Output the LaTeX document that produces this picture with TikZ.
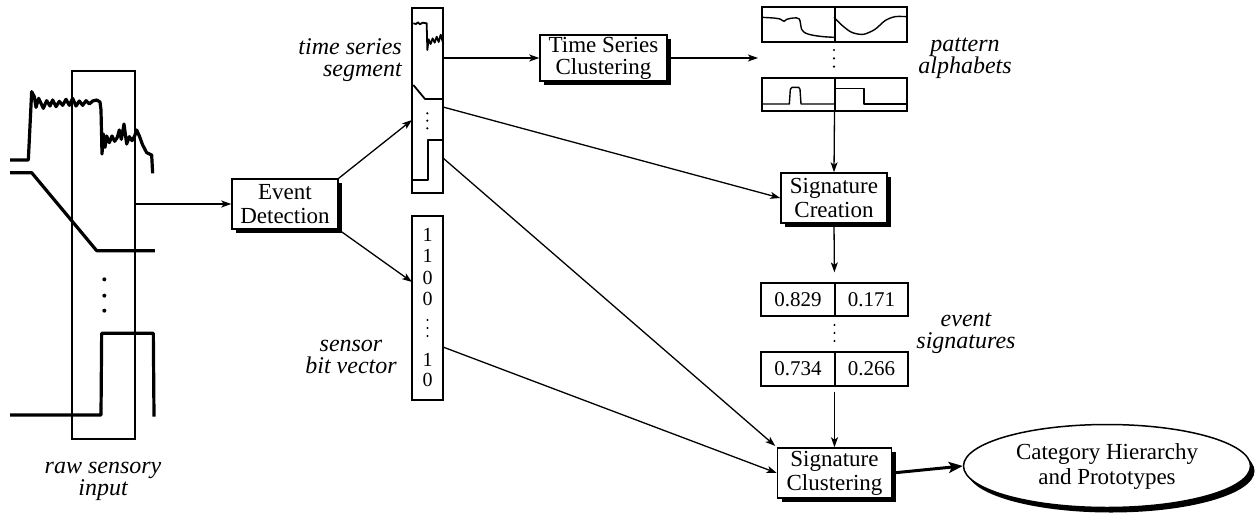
\documentclass[tikz,border=0pt]{standalone}
\usepackage{fontspec}
\setmainfont{Liberation Serif}
\usetikzlibrary{arrows.meta,shapes.geometric,shadows,calc}
\begin{document}
\begin{tikzpicture}[x=1pt,y=-1pt,
  box/.style={draw,line width=1.5pt,fill=white,inner sep=0pt,align=center,
    font=\fontsize{23}{24}\selectfont,
    drop shadow={shadow xshift=4pt,shadow yshift=-4pt,fill=black,opacity=1}},
  frm/.style={draw,line width=1.3pt,inner sep=0pt},
  lbl/.style={font=\fontsize{24}{22}\selectfont\itshape,align=center,inner sep=0pt},
  num/.style={font=\fontsize{21}{21}\selectfont,inner sep=0pt},
  bit/.style={font=\fontsize{20}{20}\selectfont,inner sep=0pt},
  arr/.style={line width=1.3pt,-{Stealth[length=10pt,width=7pt,inset=2.5pt]}},
  sig/.style={line width=3.2pt,line join=round},
  msig/.style={line width=1.8pt,line join=round},
  psig/.style={line width=1.4pt,line join=round},
  dv/.style={line width=2pt}]
\useasboundingbox (0,0) rectangle (1260,527);

% raw sensory input
\node[frm,minimum width=63pt,minimum height=368pt] (frame) at (103.5,255) {};
\begin{scope}[shift={(0,30)},x=0.33333pt,y=-0.33333pt]
  \draw[sig] (30,390) -- (85,390) -- (95,185) -- (103,200) -- (108,232) -- (116,205) -- (124,222) -- (130,235) -- (140,212) -- (150,228) -- (158,210) -- (168,230) -- (178,214) -- (188,226) -- (198,208) -- (208,226) -- (218,205) -- (228,228) -- (238,213) -- (248,226) -- (258,212) -- (268,222) -- (278,213) -- (290,210) -- (300,216) -- (303,240) -- (306,372) -- (310,312) -- (315,352) -- (320,318) -- (328,338) -- (336,318) -- (344,334) -- (352,322) -- (358,300) -- (364,328) -- (372,282) -- (380,342) -- (388,320) -- (396,332) -- (404,318) -- (410,300) -- (418,318) -- (428,345) -- (440,368) -- (455,375) -- (458,430);
  \draw[sig] (30,428) -- (95,428) -- (290,662) -- (465,662);
  \draw[sig] (30,1155) -- (303,1155) -- (305,910) -- (460,910) -- (462,1160);
  \fill (313,748) circle[radius=2pt] (313,797) circle[radius=2pt] (313,842) circle[radius=2pt];
\end{scope}
\node[lbl] (lraw) at (103,481.5) {raw sensory\\input};

% event detection
\node[box,minimum width=106pt,minimum height=50pt] (ed) at (285,204) {Event\\Detection};

% time series segment
\node[frm,minimum width=31pt,minimum height=185pt] (tsbox) at (427.5,100.5) {};
\begin{scope}[shift={(380,0)},x=0.33333pt,y=-0.33333pt]
  \draw[msig] (100,70) -- (108,72) -- (114,67) -- (120,73) -- (128,68) -- (140,70) -- (142,150) -- (146,118) -- (152,132) -- (158,115) -- (164,128) -- (170,110) -- (176,126) -- (182,104) -- (190,132);
  \draw[msig] (100,255) -- (135,297) -- (190,297);
  \draw[msig] (100,540) -- (143,540) -- (143,420) -- (190,420);
  \fill (142,340) circle[radius=1.2pt] (142,362) circle[radius=1.2pt] (142,385) circle[radius=1.2pt];
\end{scope}
\node[lbl,anchor=east,align=right] (lts) at (402,60) {time series\\segment};

% sensor bit vector
\node[frm,minimum width=31pt,minimum height=184pt] (bvbox) at (427.5,308) {};
\node[bit] (b1) at (427.5,235) {1};
\node[bit] (b2) at (427.5,256) {1};
\node[bit] (b3) at (427.5,278) {0};
\node[bit] (b4) at (427.5,299) {0};
\node[bit] (b5) at (427.5,360) {1};
\node[bit] (b6) at (427.5,380) {0};
\fill (427.5,320) circle[radius=1.2pt] (427.5,328) circle[radius=1.2pt] (427.5,336) circle[radius=1.2pt];
\node[lbl] (lbv) at (351,356.5) {sensor\\bit vector};

% time series clustering
\node[box,minimum width=127pt,minimum height=46pt,font=\fontsize{23}{22}\selectfont] (tsc) at (603.5,58) {Time Series\\Clustering};

% pattern alphabets
\node[frm,minimum width=145pt,minimum height=35pt] (pa1) at (834.5,24.5) {};
\node[frm,minimum width=145pt,minimum height=33pt] (pa2) at (834.5,94.5) {};
\draw[dv] (pa1.north) -- (pa1.south);
\draw[dv] (pa2.north) -- (pa2.south);
\begin{scope}[shift={(520,0)},x=0.33333pt,y=-0.33333pt]
  \draw[psig] plot[smooth] coordinates {(725,52) (760,54) (780,57) (792,64) (800,58) (820,54) (838,57) (845,88) (858,100) (880,106) (910,110) (942,112)};
  \draw[psig] plot[smooth] coordinates {(942,52) (965,75) (995,97) (1030,103) (1065,88) (1095,62) (1125,50) (1162,50)};
  \draw[psig] (725,312) -- (808,312) -- (811,268) -- (816,262) -- (836,262) -- (840,268) -- (843,312) -- (942,312);
  \draw[psig] (942,265) -- (1032,265) -- (1032,312) -- (1162,312);
  \fill (942,150) circle[radius=1.2pt] (942,175) circle[radius=1.2pt] (942,200) circle[radius=1.2pt];
\end{scope}
\node[lbl] (lpa) at (965,58) {pattern\\alphabets};

% signature creation
\node[box,minimum width=106pt,minimum height=50pt] (sc) at (834,198) {Signature\\Creation};

% event signatures
\node[frm,minimum width=147pt,minimum height=33pt] (es1) at (834.5,299.5) {};
\node[frm,minimum width=147pt,minimum height=34pt] (es2) at (834.5,369) {};
\draw[dv] (es1.north) -- (es1.south);
\draw[dv] (es2.north) -- (es2.south);
\node[num] (n1) at (798,299.5) {0.829};
\node[num] (n2) at (871.5,299.5) {0.171};
\node[num] (n3) at (798,369) {0.734};
\node[num] (n4) at (871.5,369) {0.266};
\fill (834.5,325) circle[radius=1.2pt] (834.5,333) circle[radius=1.2pt] (834.5,341) circle[radius=1.2pt];
\node[lbl] (les) at (966,333.5) {event\\signatures};

% signature clustering
\node[box,minimum width=114pt,minimum height=50pt] (scl) at (834.5,473) {Signature\\Clustering};

% category hierarchy
\node[draw,ellipse,line width=1.5pt,fill=white,inner sep=0pt,align=center,
  minimum width=287pt,minimum height=83pt,font=\fontsize{23}{25}\selectfont,
  drop shadow={shadow xshift=4pt,shadow yshift=-5pt,fill=black,opacity=1}] (cat) at (1107,466) {Category Hierarchy\\and Prototypes};

% connectors
\coordinate (tsA) at (412,120);
\coordinate (bvA) at (412,282);
\coordinate (tsB) at (443,58);
\coordinate (tsC) at (443,107);
\coordinate (tsD) at (443,158);
\coordinate (bvB) at (443,347);
\coordinate (paIn) at (758,58);
\draw[arr] (frame.east |- ed.west) -- (ed.west);
\draw[arr] (ed.north east) -- (tsA);
\draw[arr] (ed.south east) -- (bvA);
\draw[arr] (tsB) -- (tsc.west);
\draw[arr] (tsc.east) -- (paIn);
\draw[arr] (tsC) -- (sc.west);
\draw[arr] (pa2.south) -- (sc.north);
\draw[arr,shorten >=10pt] (sc.south) -- (es1.north);
\draw[arr,shorten <=5pt] (es2.south) -- (scl.north);
\draw[arr,shorten >=2pt] (tsD) -- (scl.north west);
\draw[arr] (bvB) -- (scl.west);
\draw[line width=3pt,-{Stealth[length=14pt,width=11pt,inset=3pt]}] (scl.east) -- (cat.west);
\end{tikzpicture}
\end{document}
